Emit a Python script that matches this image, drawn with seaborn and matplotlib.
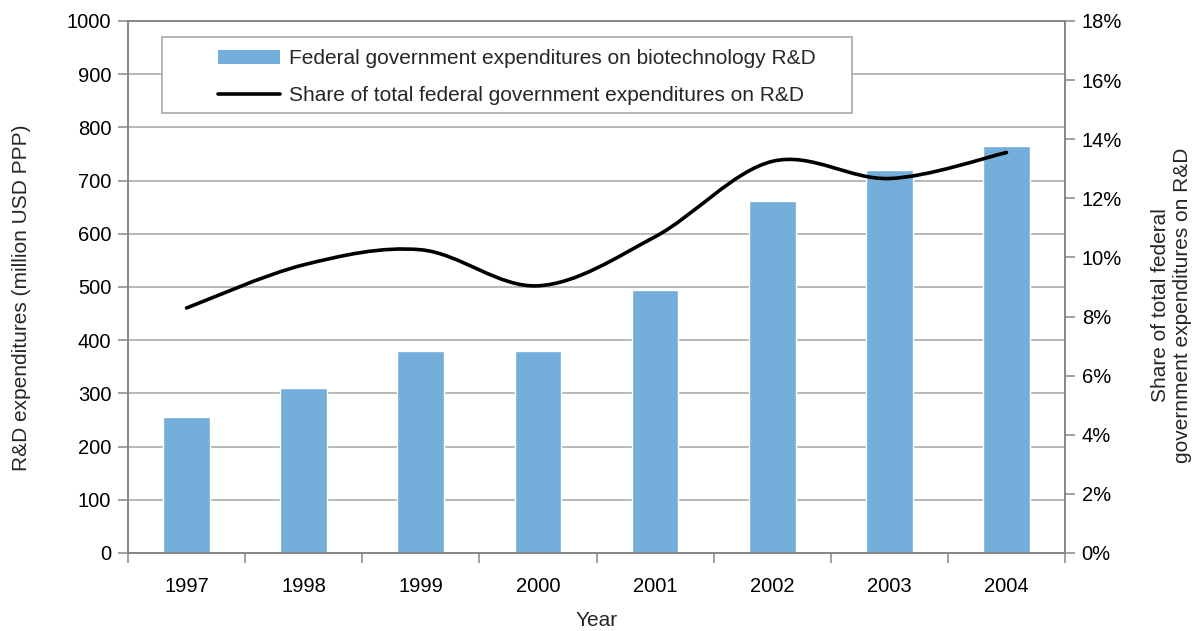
import numpy as np
import pandas as pd
import matplotlib
matplotlib.use("Agg")
import matplotlib.pyplot as plt
import seaborn as sns
from matplotlib.path import Path
from matplotlib.patches import PathPatch, Patch, Rectangle
from matplotlib.lines import Line2D
from matplotlib.ticker import FuncFormatter, MultipleLocator, FixedLocator

# ---- data ----
years = ["1997", "1998", "1999", "2000", "2001", "2002", "2003", "2004"]
biotech_rd = [256, 311, 380, 380, 495, 662, 719, 765]          # million USD PPP
share_rd = [8.29, 9.75, 10.26, 9.04, 10.7, 13.25, 12.67, 13.55]  # percent

bar_label = "Federal government expenditures on biotechnology R&D"
line_label = "Share of total federal government expenditures on R&D"
left_title = "R&D expenditures (million USD PPP)"
right_title = "Share of total federal\ngovernment expenditures on R&D"
x_title = "Year"

BAR_COLOR = "#74AEDA"
GRID = "#a6a6a6"
SPINE = "#868686"

sns.set_theme(style="white")
plt.rcParams["font.family"] = ["Liberation Sans", "DejaVu Sans"]

fig = plt.figure(figsize=(12.02, 6.31), dpi=100)
ax = fig.add_axes([128 / 1202, 1 - 553 / 631, (1065 - 128) / 1202, (553 - 21) / 631])

df = pd.DataFrame({"year": years, "value": biotech_rd})
sns.barplot(data=df, x="year", y="value", color=BAR_COLOR, saturation=1,
            width=0.4, ax=ax, zorder=2)

ax.set_xlim(-0.5, len(years) - 0.5)
ax.set_ylim(0, 1000)
ax.yaxis.set_major_locator(MultipleLocator(100))
ax.set_axisbelow(True)
ax.grid(axis="y", color=GRID, lw=1.1)
ax.grid(axis="x", visible=False)

for side in ["left", "bottom", "right", "top"]:
    ax.spines[side].set_color(SPINE)
    ax.spines[side].set_linewidth(1.2)

ax.tick_params(axis="y", which="major", left=True, length=7, width=1.1,
               color=SPINE, labelsize=14.5, pad=5, labelcolor="black")
ax.xaxis.set_minor_locator(FixedLocator(np.arange(-0.5, len(years), 1.0)))
ax.tick_params(axis="x", which="major", length=0, labelsize=14.5, pad=17,
               labelcolor="black")
ax.tick_params(axis="x", which="minor", bottom=True, length=7, width=1.1,
               color=SPINE)

ax.set_xlabel(x_title, fontsize=15)
ax.xaxis.set_label_coords(0.5, (553 - 620) / 532)
ax.xaxis.label.set_va("center")
ax.set_ylabel(left_title, fontsize=15)
ax.yaxis.set_label_coords((22 - 128) / 937, (553 - 298) / 532)
ax.yaxis.label.set_va("center")

# ---- secondary axis with smoothed line ----
ax2 = ax.twinx()
ax2.set_ylim(0, 18)
ax2.yaxis.set_major_locator(MultipleLocator(2))
ax2.yaxis.set_major_formatter(FuncFormatter(lambda v, p: f"{v:.0f}%"))
ax2.tick_params(axis="y", right=True, length=7, width=1.1, color=SPINE,
                labelsize=14.5, pad=5, labelcolor="black")
ax2.grid(False)
for side in ["left", "bottom", "right", "top"]:
    ax2.spines[side].set_color(SPINE)
    ax2.spines[side].set_linewidth(1.2)
ax2.set_ylabel(right_title, fontsize=15, linespacing=1.2)
ax2.yaxis.set_label_coords((1172 - 128) / 937, (553 - 305) / 532)
ax2.yaxis.label.set_va("center")

# smoothed curve (cubic Bezier through the data points, Excel-like)
xs = np.arange(len(share_rd), dtype=float)
ys = np.asarray(share_rd, dtype=float)
pts = np.column_stack([xs, ys])
n = len(pts)
verts = [pts[0]]
codes = [Path.MOVETO]
for i in range(n - 1):
    p0 = pts[max(i - 1, 0)]
    p1 = pts[i]
    p2 = pts[i + 1]
    p3 = pts[min(i + 2, n - 1)]
    c1 = p1 + (p2 - p0) / 6.0
    c2 = p2 - (p3 - p1) / 6.0
    verts += [c1, c2, p2]
    codes += [Path.CURVE4] * 3
ax2.add_patch(PathPatch(Path(verts, codes), fill=False, edgecolor="black",
                        lw=2.6, capstyle="round", joinstyle="round", zorder=3))

# ---- legend ----
frame = Rectangle((0.0363, 0.827), 0.7727 - 0.0363, 0.970 - 0.827,
                  transform=ax2.transAxes, facecolor="white",
                  edgecolor="#a0a0a0", lw=1.1, zorder=9)
ax2.add_patch(frame)
handles = [Patch(facecolor=BAR_COLOR, edgecolor="none"),
           Line2D([0], [0], color="black", lw=2.6)]
leg = ax2.legend(handles, [bar_label, line_label], loc="upper left",
                 bbox_to_anchor=(0.096, 0.947), frameon=False, borderpad=0,
                 borderaxespad=0, handlelength=3.0, handletextpad=0.4,
                 labelspacing=0.85, prop={"size": 15})
leg.set_zorder(10)

fig.savefig("out.png", dpi=100)
